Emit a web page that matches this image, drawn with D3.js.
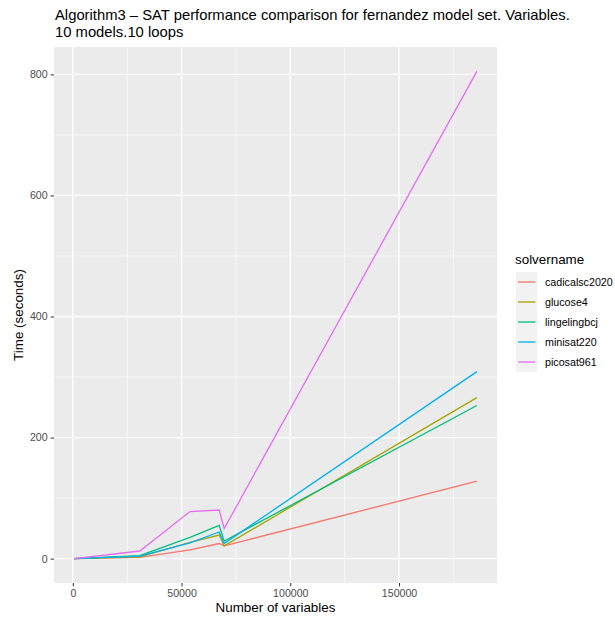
<!DOCTYPE html>
<html>
<head>
<meta charset="utf-8">
<script src="https://cdn.jsdelivr.net/npm/d3@7"></script>
<style>
  body { margin: 0; background: #ffffff; }
  text { font-family: "Liberation Sans", Arial, sans-serif; }
</style>
</head>
<body>
<div id="chart"></div>
<script>
// data
var variables = [600, 30800, 53900, 67300, 69600, 185800];
var solvers = ["cadicalsc2020", "glucose4", "lingelingbcj", "minisat220", "picosat961"];
var cadicalsc2020 = [0, 2, 14.5, 25, 21, 128];
var glucose4 = [0, 3, 27, 39, 21, 266];
var lingelingbcj = [0, 5, 35, 55, 29, 253];
var minisat220 = [0, 4, 26, 44, 25, 309];
var picosat961 = [0, 12.6, 77.7, 80.3, 49.6, 805];
var colours = ["#F8766D", "#A3A500", "#00BF7D", "#00B0F6", "#E76BF3"];
var xTicks = [0, 50000, 100000, 150000];
var xMinor = [25000, 75000, 125000, 175000];
var yTicks = [0, 200, 400, 600, 800];
var yMinor = [100, 300, 500, 700];

var series = [cadicalsc2020, glucose4, lingelingbcj, minisat220, picosat961].map(function (vals, i) {
    return { name: solvers[i], values: vals.map(function (v, j) { return { x: variables[j], y: v }; }) };
});

// panel box
var W = 615, H = 621;
var panel = { left: 54, right: 497, top: 47, bottom: 583 };

var svg = d3.select("#chart")
    .append("svg")
    .attr("width", W)
    .attr("height", H);

// ggplot style 5% expansion
var xExt = d3.extent(variables);
var xPad = (xExt[1] - xExt[0]) * 0.05;
var x = d3.scaleLinear()
    .domain([xExt[0] - xPad, xExt[1] + xPad])
    .range([panel.left, panel.right]);

var allY = [].concat(cadicalsc2020, glucose4, lingelingbcj, minisat220, picosat961);
var yExt = d3.extent(allY);
var yPad = (yExt[1] - yExt[0]) * 0.05;
var y = d3.scaleLinear()
    .domain([yExt[0] - yPad, yExt[1] + yPad])
    .range([panel.bottom, panel.top]);

// background
svg.append("rect")
    .attr("x", panel.left)
    .attr("y", panel.top)
    .attr("width", panel.right - panel.left)
    .attr("height", panel.bottom - panel.top)
    .attr("fill", "#EBEBEB");

// minor grid
svg.selectAll(".xminor").data(xMinor).enter().append("line")
    .attr("x1", function (d) { return x(d); }).attr("x2", function (d) { return x(d); })
    .attr("y1", panel.top).attr("y2", panel.bottom)
    .attr("stroke", "#ffffff").attr("stroke-width", 0.6);
svg.selectAll(".yminor").data(yMinor).enter().append("line")
    .attr("y1", function (d) { return y(d); }).attr("y2", function (d) { return y(d); })
    .attr("x1", panel.left).attr("x2", panel.right)
    .attr("stroke", "#ffffff").attr("stroke-width", 0.6);

// major grid
svg.selectAll(".xmajor").data(xTicks).enter().append("line")
    .attr("x1", function (d) { return x(d); }).attr("x2", function (d) { return x(d); })
    .attr("y1", panel.top).attr("y2", panel.bottom)
    .attr("stroke", "#ffffff").attr("stroke-width", 1.3);
svg.selectAll(".ymajor").data(yTicks).enter().append("line")
    .attr("y1", function (d) { return y(d); }).attr("y2", function (d) { return y(d); })
    .attr("x1", panel.left).attr("x2", panel.right)
    .attr("stroke", "#ffffff").attr("stroke-width", 1.3);

// axes
var xAxis = svg.append("g")
    .attr("transform", "translate(0," + panel.bottom + ")")
    .call(d3.axisBottom(x).tickValues(xTicks).tickFormat(d3.format("d")).tickSize(3.4).tickPadding(3));
var yAxis = svg.append("g")
    .attr("transform", "translate(" + panel.left + ",0)")
    .call(d3.axisLeft(y).tickValues(yTicks).tickFormat(d3.format("d")).tickSize(3.4).tickPadding(3));
[xAxis, yAxis].forEach(function (a) {
    a.select(".domain").remove();
    a.selectAll(".tick line").attr("stroke", "#333333").attr("stroke-width", 1);
    a.selectAll(".tick text")
        .attr("fill", "#4D4D4D")
        .style("font-size", "10.6px")
        .style("font-family", "'Liberation Sans', Arial, sans-serif");
});

// lines
var line = d3.line()
    .x(function (d) { return x(d.x); })
    .y(function (d) { return y(d.y); });

svg.selectAll(".series")
    .data(series)
    .enter()
    .append("path")
    .attr("d", function (d) { return line(d.values); })
    .attr("fill", "none")
    .attr("stroke", function (d, i) { return colours[i]; })
    .attr("stroke-width", 1.3);

// titles
svg.append("text")
    .attr("x", 55).attr("y", 20)
    .style("font-size", "14.8px")
    .attr("fill", "#000")
    .text("Algorithm3 \u2013 SAT performance comparison for fernandez model set. Variables.");
svg.append("text")
    .attr("x", 55).attr("y", 36.7)
    .style("font-size", "14.8px")
    .attr("fill", "#000")
    .text("10 models.10 loops");

svg.append("text")
    .attr("text-anchor", "middle")
    .attr("x", (panel.left + panel.right) / 2)
    .attr("y", 612)
    .style("font-size", "13.4px")
    .text("Number of variables");

svg.append("text")
    .attr("text-anchor", "middle")
    .attr("transform", "translate(23," + ((panel.top + panel.bottom) / 2) + ") rotate(-90)")
    .style("font-size", "13.4px")
    .text("Time (seconds)");

// legend
var legend = svg.append("g").attr("transform", "translate(515,0)");
legend.append("text")
    .attr("x", 0).attr("y", 264)
    .style("font-size", "13.4px")
    .text("solvername");

var keys = legend.selectAll(".key")
    .data(solvers)
    .enter()
    .append("g")
    .attr("transform", function (d, i) { return "translate(0," + (272 + i * 20) + ")"; });
keys.append("rect")
    .attr("x", 1).attr("y", 0)
    .attr("width", 21).attr("height", 20)
    .attr("fill", "#F2F2F2");
keys.append("line")
    .attr("x1", 3).attr("x2", 20.5)
    .attr("y1", 10).attr("y2", 10)
    .attr("stroke", function (d, i) { return colours[i]; })
    .attr("stroke-width", 1.3);
keys.append("text")
    .attr("x", 30).attr("y", 14)
    .style("font-size", "10.7px")
    .attr("fill", "#000")
    .text(function (d) { return d; });
</script>
</body>
</html>
